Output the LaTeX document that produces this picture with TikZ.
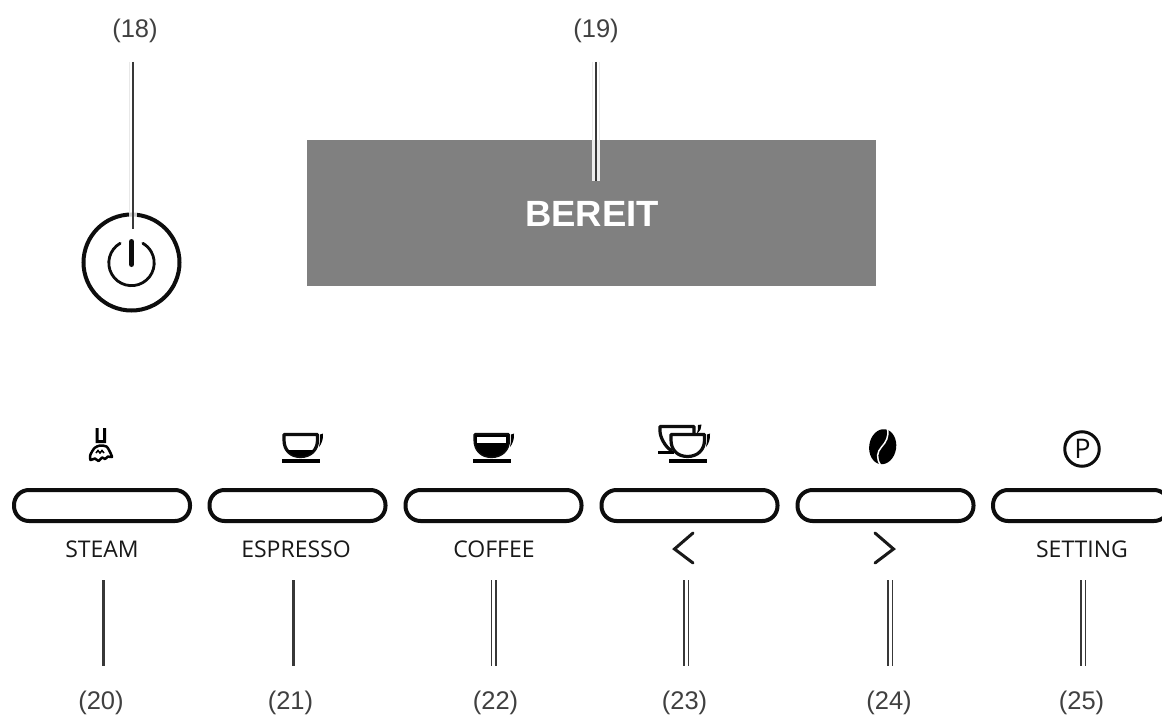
\documentclass[tikz,border=0pt]{standalone}
\usepackage{fontspec}
\setmainfont{Liberation Sans}
\newfontfamily\panelfont{Open Sans}
\begin{document}
\begin{tikzpicture}[x=1pt,y=-1pt,
  refnum/.style={text=black!75,anchor=base,inner sep=0pt,font=\fontsize{25.5}{30}\selectfont},
  keytext/.style={text=black!90,anchor=base,inner sep=0pt,font=\panelfont\fontsize{23}{28}\selectfont},
  keybtn/.style={draw=black!95,line width=4pt,rounded corners=15pt,minimum width=176pt,minimum height=31pt,inner sep=0pt,fill=white,anchor=center},
  lead/.style={draw=black!78,line width=2pt},
  leadthick/.style={draw=black!78,line width=3pt},
  leadthin/.style={draw=black!78,line width=1pt},
  halo/.style={draw=black!9,line width=1pt},
  ink/.style={draw=black!95,line width=3.2pt,line join=round},
  chev/.style={draw=black!90,line width=3pt,line cap=round,line join=miter},
  cupoutline/.pic={
    \draw[ink,fill=white] (1.5,1.5) -- (35,1.5) -- (35,7) .. controls (35,17) and (28,23.5) .. (18,23.5) .. controls (8,23.5) and (1.5,17) .. (1.5,7) -- cycle;
    \fill[black] (-0.5,26) rectangle (37.5,30);
    \fill[black] (37.5,1.5) -- (40.5,0.5) .. controls (41,6) and (39,11) .. (36.5,14) .. controls (37.5,9) and (38,5) .. cycle;
  }]
\useasboundingbox (0,0) rectangle (1162,717);
\fill[white] (0,0) rectangle (1162,717);

% display
\node[fill=black!50,minimum width=569pt,minimum height=146pt,inner sep=0pt] (display) at (591.5,213) {};
\node[anchor=base,text=white,inner sep=0pt,font=\bfseries\fontsize{36.5}{42}\selectfont] (ready) at (592,226.5) {BEREIT};

% power button
\node[circle,draw=black!95,line width=4pt,minimum size=96pt,inner sep=0pt] (power) at (131.5,262.5) {};
\draw[black!95,line width=2.8pt,line cap=round] (120.15,243.3) arc[start angle=-120,end angle=-420,radius=22.7];
\draw[black!95,line width=5pt,line cap=round] (131.5,241.5) -- (131.5,264.5);

% reference numbers
\node[refnum] (n18) at (135,38) {(18)};
\node[refnum] (n19) at (596,38) {(19)};
\node[refnum] (n20) at (101,709.5) {(20)};
\node[refnum] (n21) at (290.5,709.5) {(21)};
\node[refnum] (n22) at (495.5,709.5) {(22)};
\node[refnum] (n23) at (684.5,709.5) {(23)};
\node[refnum] (n24) at (889,709.5) {(24)};
\node[refnum] (n25) at (1081.5,709.5) {(25)};

% keys
\node[keybtn] (k20) at (102,505.5) {};
\node[keybtn] (k21) at (297.5,505.5) {};
\node[keybtn] (k22) at (493.5,505.5) {};
\node[keybtn] (k23) at (689.5,505.5) {};
\node[keybtn] (k24) at (885.5,505.5) {};
\begin{scope}
\clip (985,480) rectangle (1162,530);
\node[keybtn] (k25) at (1081,505.5) {};
\end{scope}

% key captions
\node[keytext] (t20) at (102,557) {STEAM};
\node[keytext] (t21) at (296,557) {ESPRESSO};
\node[keytext] (t22) at (494,557) {COFFEE};
\node[keytext] (t25) at (1082,557) {SETTING};
\coordinate (lta) at (693,533);
\coordinate (ltb) at (674.5,549);
\coordinate (ltc) at (693,563);
\draw[chev] (lta) -- (ltb) -- (ltc);
\coordinate (gta) at (875,533);
\coordinate (gtb) at (893.5,549);
\coordinate (gtc) at (875,563);
\draw[chev] (gta) -- (gtb) -- (gtc);

% steam icon
\fill[black] (95.7,428) -- (98.7,428) -- (98.7,440) -- (103,440) -- (103,428) -- (106,428) -- (106,443) -- (95.7,443) -- cycle;
\draw[black,line width=2.5pt,line join=round,fill=white] plot[smooth cycle,tension=0.45] coordinates {(94.5,448) (100,445.5) (106.5,446.5) (109.5,451) (112,457) (108,456.5) (105,459) (102,457.5) (98.5,461) (95,458.5) (90.5,460) (90.3,455)};
\draw[black,line width=1.5pt] (96,453) -- (98,450.5) -- (100,453) -- (102,450.5) -- (104,453);

% espresso cup
\pic at (282.5,433) {cupoutline};
\begin{scope}
\clip (282.5,450) rectangle (322,458);
\fill[black] (284,440) -- (317.5,440) .. controls (317.5,450) and (310.5,456.5) .. (300.5,456.5) .. controls (290.5,456.5) and (284,450) .. (284,440) -- cycle;
\end{scope}

% coffee cup
\pic at (473.5,433) {cupoutline};
\fill[black] (475,435) -- (508.5,435) -- (508.5,440) .. controls (508.5,450) and (501.5,456.5) .. (491.5,456.5) .. controls (481.5,456.5) and (475,450) .. (475,440) -- cycle;
\fill[white] (477,437.3) rectangle (506,443.3);

% double cup
\draw[ink] (672,451) .. controls (665,447) and (660,437) .. (660,431) -- (660,426.5) -- (694,426.5) -- (694,434);
\fill[black] (658,450.5) rectangle (674,454);
\fill[black] (698,425) -- (701.5,424.5) .. controls (702,428) and (700,431) .. (697,433.5) .. controls (698,431) and (698,428) .. cycle;
\pic at (669.5,433) {cupoutline};

% bean
\fill[black,rotate around={-8:(882.7,446.7)}] (882.7,446.7) ellipse[x radius=13.5,y radius=17.6];
\draw[white,line width=1.5pt] (887.5,429) .. controls (889,437) and (886,442) .. (881.5,447) .. controls (877,452) and (876,458) .. (880.5,465);

% P icon
\node[circle,draw=black!95,line width=3pt,minimum size=34.5pt,inner sep=0pt] (picon) at (1082,449) {};
\node[anchor=base,inner sep=0pt,text=black!95,font=\panelfont\fontsize{27}{30}\selectfont] (pletter) at (1082.5,458.5) {P};

% leader lines: end points
\foreach \n/\x/\ya/\yb in {a18/133/62/229,a19/596/62/181,a20/103.5/580/666,a21/293.5/580/666,a22/496/580/666,a23/684/580/666,a24/888/580/666,a25/1081/580/666}{
  \coordinate (\n s) at (\x,\ya);
  \coordinate (\n e) at (\x,\yb);
}
% pale halos round the two upper leaders
\fill[white,opacity=0.8] (129,62) rectangle (137,229);
\fill[white,opacity=0.85] (592,62) rectangle (600,181);
\draw[halo] (592.5,62) -- (592.5,140);
\draw[halo] (599.5,62) -- (599.5,140);
\draw[halo] (129.5,62) -- (129.5,213);
\draw[lead] (a18s) -- (a18e);
\draw[lead] (a19s) -- (a19e);
\draw[leadthick] (a20s) -- (a20e);
\draw[leadthick] (a21s) -- (a21e);
\draw[lead] (a22s) -- (a22e);
\draw[leadthin] ([xshift=-4.5pt]a22s) -- ([xshift=-4.5pt]a22e);
\draw[lead] (a23s) -- (a23e);
\draw[leadthin] ([xshift=4.5pt]a23s) -- ([xshift=4.5pt]a23e);
\draw[lead] (a24s) -- (a24e);
\draw[leadthin] ([xshift=4.5pt]a24s) -- ([xshift=4.5pt]a24e);
\draw[lead] (a25s) -- (a25e);
\draw[leadthin] ([xshift=4.5pt]a25s) -- ([xshift=4.5pt]a25e);
\end{tikzpicture}
\end{document}
